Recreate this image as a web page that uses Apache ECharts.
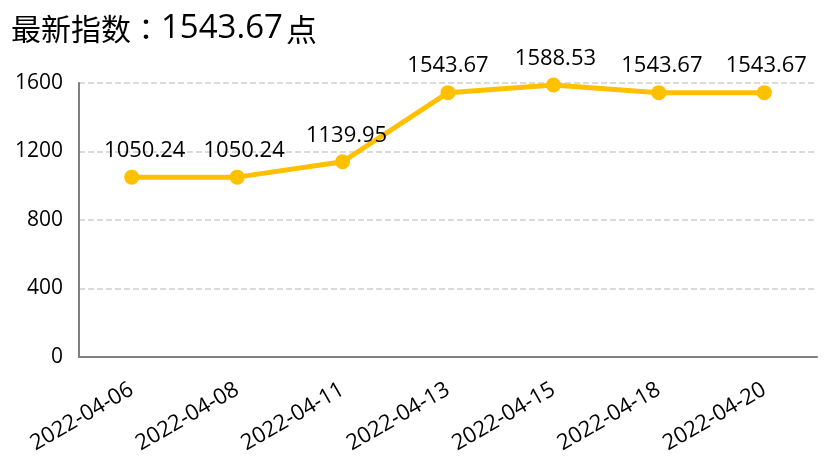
<!DOCTYPE html>
<html>
<head>
<meta charset="utf-8">
<script src="https://cdn.jsdelivr.net/npm/echarts@6/dist/echarts.min.js"></script>
<style>
html,body{margin:0;padding:0;background:#fff;}
#chart{width:830px;height:476px;}
</style>
</head>
<body>
<div id="chart"></div>
<script>
var titlePrefix = '最新指数';
var titleColon = '：';
var titleValue = '1543.67';
var titleSuffix = '点';
var categories = ['2022-04-06','2022-04-08','2022-04-11','2022-04-13','2022-04-15','2022-04-18','2022-04-20'];
var values = [1050.24, 1050.24, 1139.95, 1543.67, 1588.53, 1543.67, 1543.67];
var labelShiftX = [13, 7, 4, 0, 2, 3, 2];
var yMin = 0, yMax = 1600, yStep = 400;

var FONT = '"Open Sans", "Noto Sans CJK SC", sans-serif';
var SC = '"Noto Sans CJK SC", sans-serif';
var TC = '"Noto Sans CJK TC", sans-serif';
var chart = echarts.init(document.getElementById('chart'));
chart.setOption({
  animation: false,
  backgroundColor: '#fff',
  title: {
    text: '{c|' + titlePrefix + '}{k|' + titleColon + '}{n|' + titleValue + '}{s|' + titleSuffix + '}',
    left: 6, top: 4,
    textStyle: {
      fontWeight: 'normal',
      rich: {
        c: {color: '#000', fontSize: 30, fontWeight: 'normal', fontFamily: SC, height: 40, verticalAlign: 'middle'},
        k: {color: '#000', fontSize: 30, fontWeight: 'normal', fontFamily: TC, height: 40, verticalAlign: 'middle'},
        n: {color: '#000', fontSize: 33, fontWeight: 'normal', fontFamily: FONT, height: 40, verticalAlign: 'middle'},
        s: {color: '#000', fontSize: 31, fontWeight: 'normal', fontFamily: SC, height: 40, verticalAlign: 'middle', padding: [0, 0, 0, 3]}
      }
    }
  },
  grid: {left: 79, right: 13, top: 83, bottom: 119},
  xAxis: {
    type: 'category',
    data: categories,
    boundaryGap: true,
    axisLine: {show: true, lineStyle: {color: '#808080', width: 2}},
    axisTick: {show: false},
    axisLabel: {rotate: 30, color: '#000', fontSize: 22, fontFamily: FONT, margin: 31, interval: 0}
  },
  yAxis: {
    type: 'value',
    min: yMin, max: yMax, interval: yStep,
    axisLine: {show: true, lineStyle: {color: '#808080', width: 2}},
    axisTick: {show: false},
    axisLabel: {color: '#000', fontSize: 21, fontFamily: FONT, margin: 16,
      formatter: function(v){ return String(v); }},
    splitLine: {show: true, lineStyle: {color: '#d0d0d0', type: 'dashed', width: 1.5}}
  },
  series: [{
    type: 'line',
    data: values.map(function(v, i){
      return {value: v, label: {offset: [labelShiftX[i], 0]}};
    }),
    symbol: 'circle',
    symbolSize: 15,
    itemStyle: {color: '#FFC000'},
    lineStyle: {color: '#FFC000', width: 5},
    label: {show: true, position: 'top', distance: 8, color: '#000', fontSize: 22, fontFamily: FONT,
      formatter: function(p){ return p.value.toFixed(2); }}
  }]
});
</script>
</body>
</html>
